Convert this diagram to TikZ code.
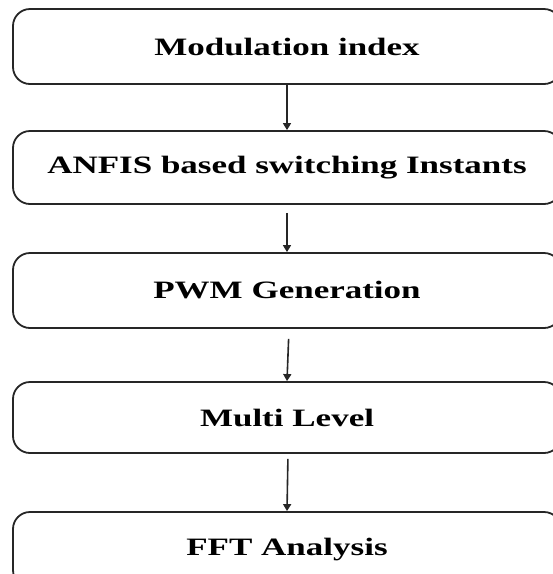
\documentclass[tikz,border=0pt]{standalone}
\usepackage{fontspec}
\setmainfont{Liberation Serif}
\usetikzlibrary{arrows.meta}
\tikzset{
  stagebox/.style={draw=black!85, line width=1.8pt, rounded corners=17pt,
    minimum width=548pt, inner sep=0pt, font=\bfseries\fontsize{25}{28}\selectfont},
  flowarrow/.style={draw=black!85, line width=1.6pt, -{Triangle[width=8pt,length=7pt]}}
}
\newcommand{\wide}[1]{\scalebox{1.4}[1]{#1}}
\begin{document}
\begin{tikzpicture}[x=1pt,y=1pt]
\useasboundingbox (0,0) rectangle (553,-574);
\clip (0,0) rectangle (553,-574);
\node[stagebox, minimum height=75pt] (b1) at (287,-46.5) {\wide{Modulation index}};
\node[stagebox, minimum height=73pt] (b2) at (287,-167.5) {\wide{ANFIS based switching Instants}};
\node[stagebox, minimum height=75pt] (b3) at (287,-290.5) {\wide{PWM Generation}};
\node[stagebox, minimum height=71pt] (b4) at (287,-417.5) {\wide{Multi Level}};
\node[stagebox, minimum height=75pt] (b5) at (287,-549.5) {\wide{FFT Analysis}};
\draw[flowarrow] (b1.south) -- (b2.north);
\draw[flowarrow, shorten <=8pt] (b2.south) -- (b3.north);
\draw[flowarrow, shorten <=10pt] ([xshift=2pt]b3.south) -- (b4.north);
\draw[flowarrow, shorten <=5pt] ([xshift=1pt]b4.south) -- (b5.north);
\end{tikzpicture}
\end{document}
